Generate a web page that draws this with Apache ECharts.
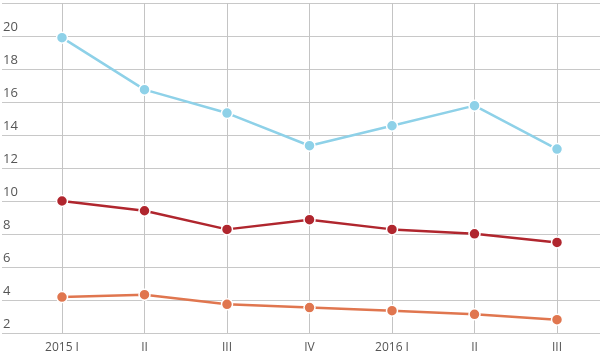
<!DOCTYPE html>
<html>
<head>
<meta charset="utf-8">
<script src="https://cdn.jsdelivr.net/npm/echarts@6/dist/echarts.min.js"></script>
<style>html,body{margin:0;padding:0;background:#fff}#c{width:600px;height:360px}</style>
</head>
<body>
<div id="c"></div>
<script>
var categories = ['2015 I', 'II', 'III', 'IV', '2016 I', 'II', 'III'];
var seriesBlue = [19.9, 16.75, 15.33, 13.35, 14.56, 15.78, 13.15];
var seriesRed = [10.0, 9.41, 8.28, 8.87, 8.28, 8.01, 7.49];
var seriesOrange = [4.18, 4.32, 3.74, 3.54, 3.35, 3.13, 2.81];
var yMin = 2, yMax = 22, yStep = 2;

var chart = echarts.init(document.getElementById('c'), null, {renderer: 'canvas'});
var font = '"Open Sans", sans-serif';
function mk(name, data, color) {
  return {
    name: name, type: 'line', xAxisIndex: 1, yAxisIndex: 1, data: data,
    symbol: 'circle', symbolSize: 11,
    lineStyle: {color: color, width: 2.5},
    itemStyle: {color: color, borderColor: '#fff', borderWidth: 1.5},
    animation: false
  };
}
chart.setOption({
  animation: false,
  grid: [
    {left: 0, right: 0, top: 3, bottom: 27},
    {left: 62, right: 43, top: 3, bottom: 27}
  ],
  xAxis: [
    {gridIndex: 0, type: 'value', show: false, min: 0, max: 1},
    {gridIndex: 1, type: 'category', data: categories, boundaryGap: false,
     axisLine: {show: false}, axisTick: {show: false},
     axisLabel: {color: '#555', fontSize: 12, fontFamily: font, margin: 9},
     splitLine: {show: true, lineStyle: {color: '#c4c4c4', width: 1}}}
  ],
  yAxis: [
    {gridIndex: 0, type: 'value', min: yMin, max: yMax, interval: yStep,
     axisLine: {show: false}, axisTick: {show: false},
     axisLabel: {inside: true, margin: 1, color: '#555', fontSize: 13, fontFamily: font,
       verticalAlign: 'bottom', padding: [0, 0, 2, 0],
       formatter: function (v) { return v === yMax ? '' : String(v); }},
     splitLine: {show: true, lineStyle: {color: '#c8c8c8', width: 1}}},
    {gridIndex: 1, type: 'value', min: yMin, max: yMax, interval: yStep, show: false,
     splitLine: {show: false}}
  ],
  series: [
    mk('blue', seriesBlue, '#8ed1e8'),
    mk('red', seriesRed, '#b0262e'),
    mk('orange', seriesOrange, '#e0764f')
  ]
});
</script>
</body>
</html>
